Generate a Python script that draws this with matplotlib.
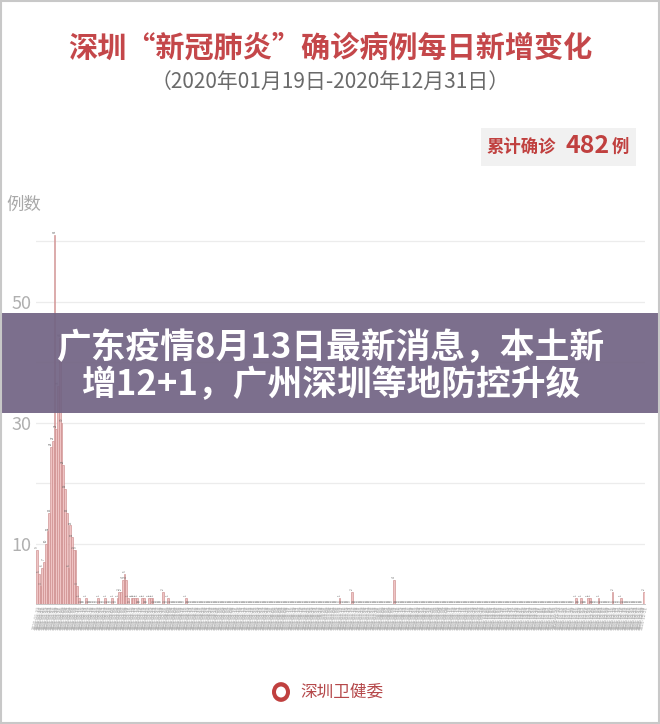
import matplotlib
matplotlib.use("Agg")
import matplotlib.pyplot as plt
from matplotlib.patches import Rectangle, Circle, FancyBboxPatch
import pandas as pd

plt.rcParams['font.family'] = ['Noto Sans CJK SC', 'DejaVu Sans']

# 深圳每日新增确诊（2020-01-19 至 2020-12-31），按月读取
jan = [9, 5, 3, 6, 7, 10, 12, 15, 26, 27, 61, 29, 36]
feb = [44, 30, 23, 19, 15, 6, 13, 11, 9, 9, 3, 1, 0, 0, 0, 1, 0, 0, 0, 0,
       0, 0, 1, 0, 0, 0, 1, 0, 0]
mar = [0, 1, 0, 0, 1, 2, 2, 4, 5, 4, 1, 0, 1, 1, 1, 1, 0, 0, 1, 1,
       0, 0, 1, 1, 1, 0, 0, 0, 0, 0, 2]
apr = [0, 0, 1, 0, 0, 0, 0, 0, 0, 0, 0, 0, 1, 0, 0, 0, 0, 0, 0, 0,
       0, 0, 0, 0, 0, 0, 0, 0, 0, 0]
may = [0] * 31
jun = [0] * 30
jul = [0, 0, 0, 0, 0, 0, 0, 0, 0, 1, 0, 0, 0, 0, 0, 0, 2, 0, 0, 0,
       0, 0, 0, 0, 0, 0, 0, 0, 0, 0, 0]
aug = [0, 0, 0, 0, 0, 0, 0, 0, 0, 4, 0, 0, 0, 0, 0, 0, 0, 0, 0, 0,
       0, 0, 0, 0, 0, 0, 0, 0, 0, 0, 0]
sep = [0] * 30
oct_ = [0] * 31
nov = [0, 0, 0, 0, 0, 0, 0, 0, 0, 0, 0, 0, 0, 0, 0, 0, 0, 0, 0, 0,
       0, 1, 0, 0, 1, 0, 0, 0, 1, 1]
dec = [0, 0, 0, 0, 1, 0, 0, 0, 0, 0, 0, 0, 2, 0, 0, 0, 0, 1, 0, 0,
       0, 0, 0, 0, 0, 0, 0, 0, 0, 0, 2]

cases = jan + feb + mar + apr + may + jun + jul + aug + sep + oct_ + nov + dec
dates = pd.date_range('2020-01-19', '2020-12-31')
date_labels = [d.strftime('%Y-%m-%d') for d in dates]

title = '深圳“新冠肺炎”确诊病例每日新增变化'
subtitle = '（2020年01月19日-2020年12月31日）'
total_label = '482'
banner_lines = ['广东疫情8月13日最新消息，本土新', '增12+1，广州深圳等地防控升级']

W, H = 660, 724
fig = plt.figure(figsize=(W / 100, H / 100), dpi=100)
fig.patch.set_facecolor('white')


def fx(x):
    return x / W


def fy(y):
    return 1 - y / H


# 主图区域
ax = fig.add_axes([fx(36), fy(604), fx(645) - fx(36), fy(223) - fy(604)])
x = list(range(len(cases)))
ax.bar(x, cases, width=0.95, color='#efc4c4', edgecolor='#c98585', linewidth=0.4)
for i, v in enumerate(cases):
    ax.text(i, v + 0.3, str(v), fontsize=2.2, rotation=90, ha='center', va='bottom',
            color='#666666')

ax.set_xlim(-0.6, len(cases) - 0.4)
ax.set_ylim(0, 63)
ax.set_yticks([10, 30, 50])
ax.set_yticks([20, 40, 60], minor=True)
ax.grid(axis='y', which='both', color='#ececec', linewidth=0.9)
ax.set_axisbelow(True)
ax.tick_params(axis='y', which='both', length=0, labelsize=13, labelcolor='#b0b0b0', pad=3)
ax.set_xticks(x)
ax.set_xticklabels(date_labels, rotation=78, fontsize=3.4, color='#aaaaaa')
ax.tick_params(axis='x', length=0, pad=1)
for s in ['top', 'right', 'left']:
    ax.spines[s].set_visible(False)
ax.spines['bottom'].set_color('#bbbbbb')
ax.spines['bottom'].set_linewidth(0.6)

# 标题
fig.text(fx(330), fy(48), title, fontsize=21, fontweight='bold', color='#c4474a',
         ha='center', va='center')
fig.text(fx(330), fy(82), subtitle, fontsize=15, color='#6a6a6a',
         ha='center', va='center')

# 累计确诊框
fig.patches.append(FancyBboxPatch((fx(481), fy(166)), fx(636) - fx(481), fy(128) - fy(166),
                                  boxstyle='square,pad=0', transform=fig.transFigure,
                                  facecolor='#f1f1f1', edgecolor='none'))
fig.text(fx(487), fy(147), '累计确诊', fontsize=12.5, fontweight='bold', color='#c0403f',
         ha='left', va='center')
fig.text(fx(565), fy(146), total_label, fontsize=18, fontweight='bold', color='#c0403f',
         ha='left', va='center')
fig.text(fx(612), fy(147), '例', fontsize=12.5, fontweight='bold', color='#c0403f',
         ha='left', va='center')

fig.text(fx(6), fy(205), '例数', fontsize=12.5, color='#a8a8a8', ha='left', va='center')

# 底部署名
fig.patches.append(Circle((fx(281), fy(692)), 9 / W, transform=fig.transFigure,
                          facecolor='#c0403f', edgecolor='none'))
fig.patches.append(Circle((fx(281), fy(692)), 5 / W, transform=fig.transFigure,
                          facecolor='white', edgecolor='none'))
fig.text(fx(300), fy(692), '深圳卫健委', fontsize=12, color='#b5484a', ha='left', va='center')

# 横幅
fig.patches.append(Rectangle((0, fy(413)), 1, fy(313) - fy(413), transform=fig.transFigure,
                             facecolor='#716383', edgecolor='none', alpha=0.92, zorder=5))
fig.text(fx(330), fy(348), banner_lines[0], fontsize=25, fontweight='bold', color='white',
         ha='center', va='center', zorder=6)
fig.text(fx(331), fy(385), banner_lines[1], fontsize=25, fontweight='bold', color='white',
         ha='center', va='center', zorder=6)

# 外框
fig.patches.append(Rectangle((0.001, 0.001), 0.998, 0.998, transform=fig.transFigure,
                             fill=False, edgecolor='#c8c8c8', linewidth=1.5, zorder=7))

fig.savefig('out.png', dpi=100)
